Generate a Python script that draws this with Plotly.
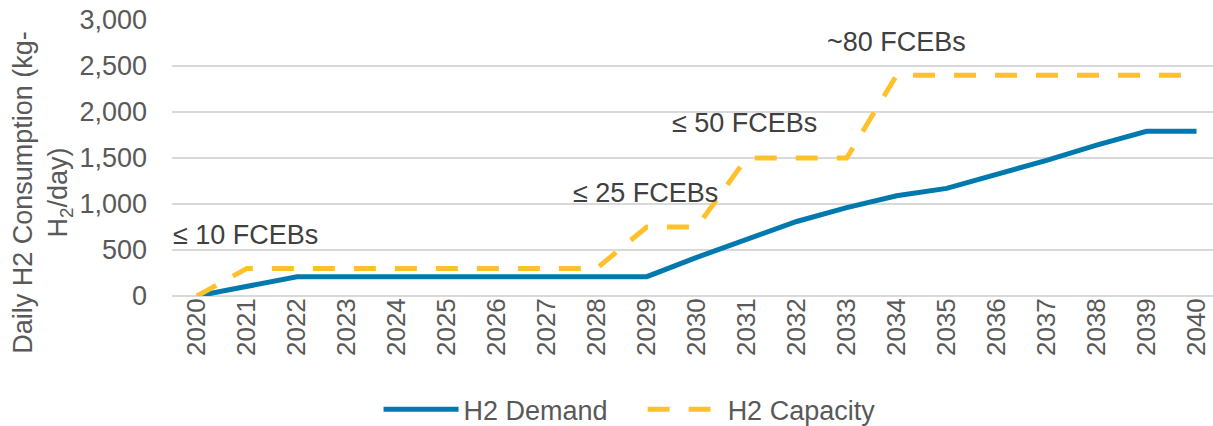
import plotly.graph_objects as go

# data
years = list(range(2020, 2041))
year_labels = [str(y) for y in years]

h2_demand = [0, 105, 210, 210, 210, 210, 210, 210, 210, 210, 420,
             615, 810, 960, 1090, 1170, 1320, 1475, 1640, 1790, 1790]
h2_capacity = [0, 300, 300, 300, 300, 300, 300, 300, 300, 750, 750,
               1500, 1500, 1500, 2400, 2400, 2400, 2400, 2400, 2400, 2400]

fleet_labels = ["≤ 10 FCEBs", "≤ 25 FCEBs", "≤ 50 FCEBs", "~80 FCEBs"]
fleet_years = [2020.98, 2028.97, 2030.96, 2033.99]
fleet_levels = [663, 1120, 1880, 2760]

y_ticks = [0, 500, 1000, 1500, 2000, 2500, 3000]

FONT = "Liberation Sans, Arial, sans-serif"
GREY = "#595959"
NBSP = "\u00a0"

fig = go.Figure()

fig.add_trace(go.Scatter(
    x=years, y=h2_demand, name="H2 Demand" + NBSP * 4, mode="lines",
    line=dict(color="#0079AE", width=5),
))
fig.add_trace(go.Scatter(
    x=years, y=h2_capacity, name="H2 Capacity", mode="lines",
    line=dict(color="#FFC12B", width=5, dash="22px,19px"),
))

for label, xv, yv in zip(fleet_labels, fleet_years, fleet_levels):
    fig.add_annotation(x=xv, y=yv, text=label, showarrow=False,
                       xanchor="center", yanchor="middle",
                       font=dict(family=FONT, size=27, color="#404040"))

# y axis title placed by hand, two lines like the original
fig.add_annotation(
    xref="paper", yref="paper", x=-0.124, y=0.377,
    text="Daily H2 Consumption (kg-<br>H<sub>2</sub>/day)",
    textangle=-90, showarrow=False, align="center",
    xanchor="center", yanchor="middle",
    font=dict(family=FONT, size=27, color=GREY),
)

fig.update_layout(
    width=1213, height=426,
    margin=dict(l=172, r=0, t=20, b=130, autoexpand=False),
    paper_bgcolor="white", plot_bgcolor="white",
    font=dict(family=FONT, size=26, color=GREY),
    showlegend=True,
    legend=dict(
        orientation="h", xref="container", yref="container",
        x=0.519, y=0.038, xanchor="center", yanchor="middle",
        font=dict(family=FONT, size=27, color=GREY),
        itemwidth=75,
    ),
    xaxis=dict(
        range=[2019.5, 2040.33], tickvals=years, ticktext=year_labels,
        tickangle=-90, showgrid=False, zeroline=False, showline=False,
        ticks="", tickfont=dict(size=26, color=GREY),
        automargin=False, ticklabelstandoff=-4,
    ),
    yaxis=dict(
        range=[0, 3000], tickvals=y_ticks, tickformat=",",
        showgrid=True, gridcolor="#D9D9D9", gridwidth=2,
        zeroline=True, zerolinecolor="#D9D9D9", zerolinewidth=2,
        showline=False, ticks="", ticklabelstandoff=24,
        tickfont=dict(size=27, color=GREY), automargin=False,
    ),
)

fig.write_html("out.html", config={"displayModeBar": False},
               post_script="document.body.style.margin='0';")
